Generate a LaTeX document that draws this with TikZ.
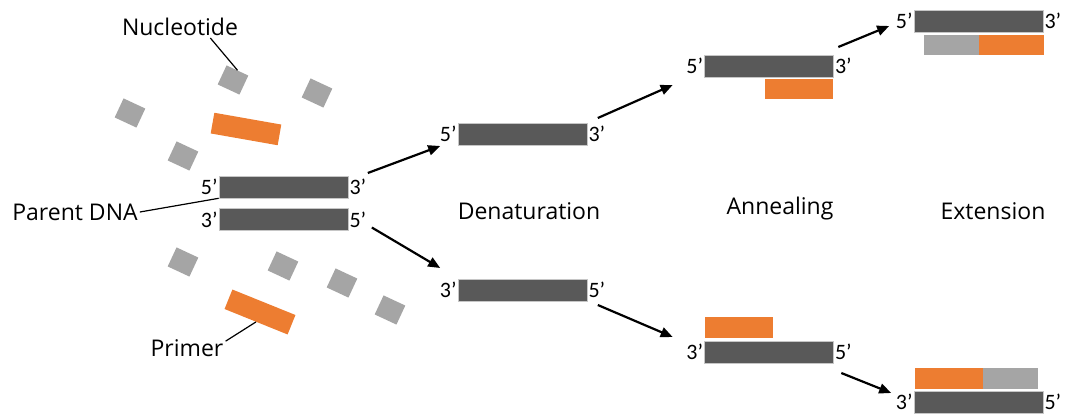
\documentclass[tikz,border=0pt]{standalone}
\usepackage{fontspec}
\setmainfont{Open Sans}
\newfontfamily\endfont{Carlito}
\usetikzlibrary{arrows.meta, positioning}
\definecolor{dnagray}{HTML}{595959}
\definecolor{nucgray}{HTML}{A5A5A5}
\definecolor{primerorange}{HTML}{ED7D31}

\begin{document}
\begin{tikzpicture}[
  x=1pt, y=-1pt,
  strand/.style={rectangle, fill=dnagray, draw=gray!45, line width=0.6pt, minimum width=129pt, minimum height=22pt, inner sep=0pt},
  primerbox/.style={rectangle, fill=primerorange, minimum width=68pt, minimum height=21pt, inner sep=0pt},
  newbox/.style={rectangle, fill=nucgray, minimum width=55pt, minimum height=21pt, inner sep=0pt},
  nucleo/.style={rectangle, fill=nucgray, minimum width=24pt, minimum height=21pt, inner sep=0pt, rotate=-25},
  endlbl/.style={font=\endfont\fontsize{22}{24}\selectfont, inner sep=1pt},
  tag/.style={font=\fontsize{23}{27}\selectfont, inner sep=2pt},
  arr/.style={-{Triangle[length=12pt,width=10pt]}, line width=2.2pt},
  lead/.style={line width=1.2pt},
]
\useasboundingbox (0,0) rectangle (1065,414);

% free nucleotides and primers
\node[nucleo] (nuc1) at (233,80)  {};
\node[nucleo] (nuc2) at (317,93)  {};
\node[nucleo] (nuc3) at (130,113) {};
\node[nucleo] (nuc4) at (183,156) {};
\node[nucleo] (nuc5) at (183,262) {};
\node[nucleo] (nuc6) at (283,266) {};
\node[nucleo] (nuc7) at (342,283) {};
\node[nucleo] (nuc8) at (390,310) {};
\node[primerbox, rotate=-10] (primer1) at (246,129) {};
\node[primerbox, rotate=-22] (primer2) at (260,312) {};

% parent DNA
\node[strand] (parentTop) at (283.5,187) {};
\node[strand] (parentBot) at (283.5,219.5) {};
\node[endlbl, left=0pt of parentTop]  (pt5) {5’};
\node[endlbl, right=0pt of parentTop] (pt3) {3’};
\node[endlbl, left=0pt of parentBot]  (pb3) {3’};
\node[endlbl, right=0pt of parentBot] (pb5) {5’};

% denaturation
\node[strand] (denTop) at (522.5,134) {};
\node[strand] (denBot) at (522.5,290) {};
\node[endlbl, left=0pt of denTop]  (dt5) {5’};
\node[endlbl, right=0pt of denTop] (dt3) {3’};
\node[endlbl, left=0pt of denBot]  (db3) {3’};
\node[endlbl, right=0pt of denBot] (db5) {5’};

% annealing
\node[strand] (annTop) at (769,66) {};
\node[primerbox, minimum height=20pt] (annTopPr) at (799,89) {};
\node[primerbox] (annBotPr) at (739,327.5) {};
\node[strand] (annBot) at (769,352) {};
\node[endlbl, left=0pt of annTop]  (at5) {5’};
\node[endlbl, right=0pt of annTop] (at3) {3’};
\node[endlbl, left=0pt of annBot]  (ab3) {3’};
\node[endlbl, right=0pt of annBot] (ab5) {5’};

% extension
\node[strand] (extTop) at (978.5,21) {};
\node[primerbox, minimum width=65pt, minimum height=20pt] (extTopPr) at (1011.5,45) {};
\node[newbox, minimum height=20pt, left=0pt of extTopPr] (extTopNew) {};
\node[strand] (extBot) at (978.5,402) {};
\node[primerbox] (extBotPr) at (949,378) {};
\node[newbox, right=0pt of extBotPr] (extBotNew) {};
\node[endlbl, left=0pt of extTop]  (et5) {5’};
\node[endlbl, right=0pt of extTop] (et3) {3’};
\node[endlbl, left=0pt of extBot]  (eb3) {3’};
\node[endlbl, right=0pt of extBot] (eb5) {5’};

% captions
\node[tag] (lblNuc)    at (180,27)  {Nucleotide};
\node[tag] (lblParent) at (75,212)  {Parent DNA};
\node[tag] (lblPrimer) at (187,348) {Primer};
\node[tag] (lblDen)    at (529,211) {Denaturation};
\node[tag] (lblAnn)    at (780,209) {Annealing};
\node[tag] (lblExt)    at (993,211) {Extension};

\draw[lead] (lblNuc.-20)   -- (nuc1.north);
\draw[lead] (lblParent.east) -- (parentTop.south west);
\draw[lead] (lblPrimer.10) -- (primer2.south);

% steps
\draw[arr] ([shift={(10,-14)}]pt3.center) -- ([shift={(-8,12)}]dt5.center);
\draw[arr] ([shift={(14,8)}]pb5.center)   -- ([shift={(-8,-22)}]db3.center);
\draw[arr] ([shift={(1,-16)}]dt3.center)  -- ([shift={(-22,19)}]at5.center);
\draw[arr] ([shift={(1,15)}]db5.center)   -- ([shift={(-22,-15)}]ab3.center);
\draw[arr] ([shift={(-5,-19)}]at3.center) -- ([shift={(-15,5)}]et5.center);
\draw[arr] ([shift={(-2,21)}]ab5.center)  -- ([shift={(-13,-9)}]eb3.center);
\end{tikzpicture}
\end{document}
